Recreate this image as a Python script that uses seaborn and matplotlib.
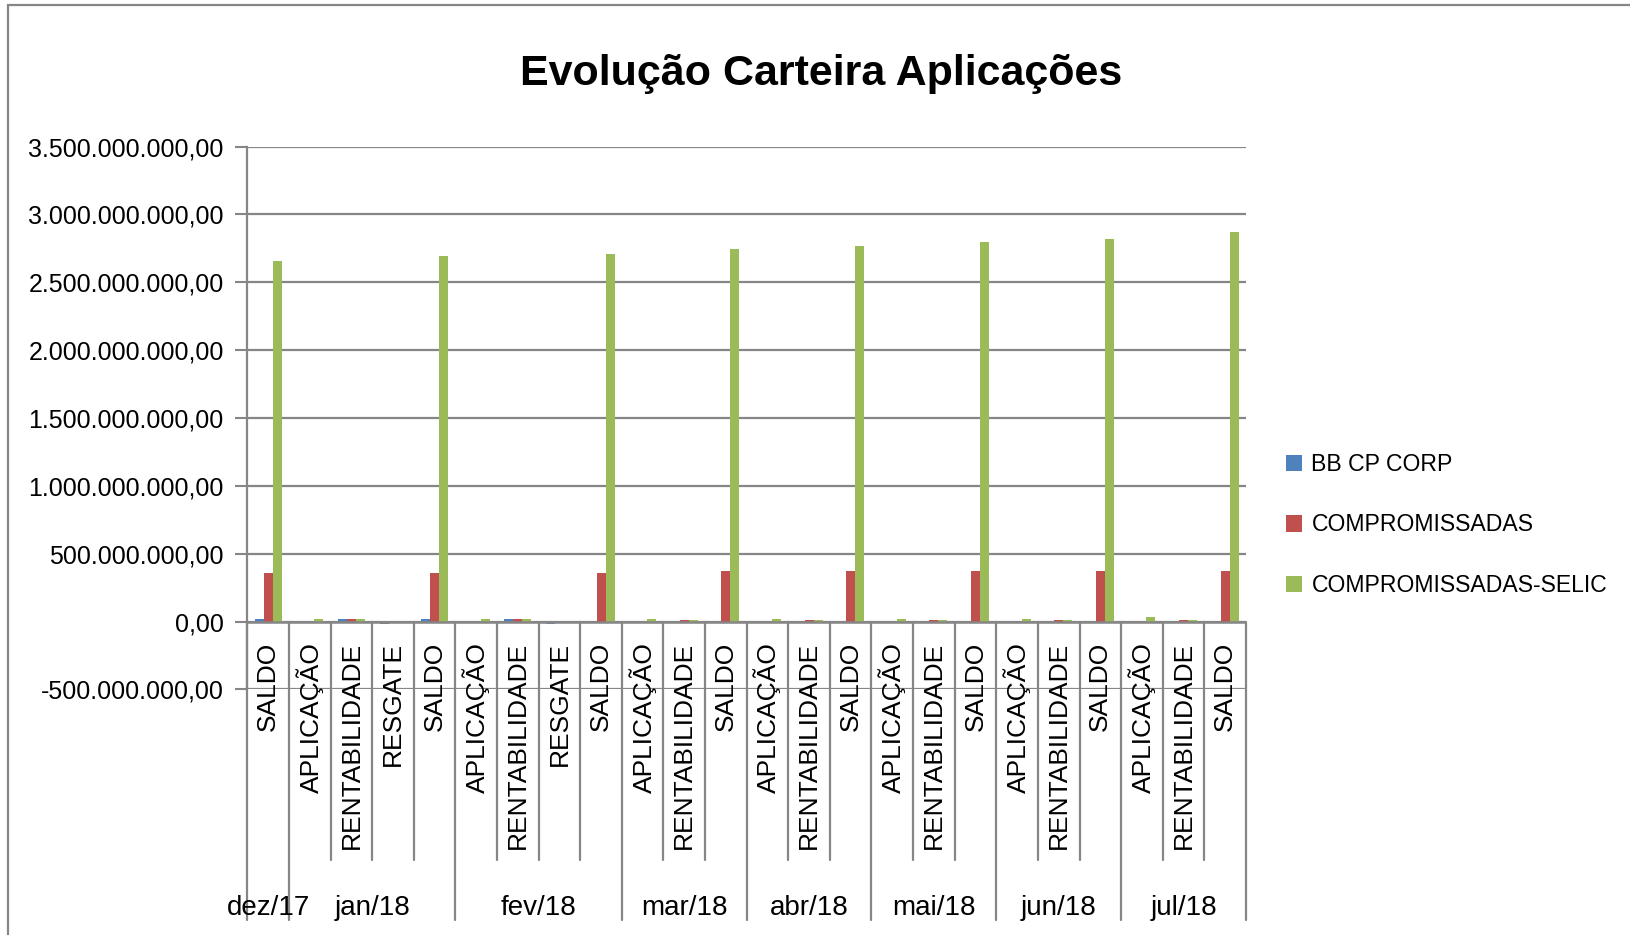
import pandas as pd
import matplotlib.pyplot as plt
import matplotlib.transforms as mtransforms
from matplotlib.patches import Rectangle
from matplotlib.ticker import FuncFormatter
import seaborn as sns

# ------------------------
# DADOS
# ------------------------
meses = ["dez/17", "jan/18", "fev/18", "mar/18", "abr/18", "mai/18", "jun/18", "jul/18"]
itens = [
    ["SALDO"],
    ["APLICAÇÃO", "RENTABILIDADE", "RESGATE", "SALDO"],
    ["APLICAÇÃO", "RENTABILIDADE", "RESGATE", "SALDO"],
    ["APLICAÇÃO", "RENTABILIDADE", "SALDO"],
    ["APLICAÇÃO", "RENTABILIDADE", "SALDO"],
    ["APLICAÇÃO", "RENTABILIDADE", "SALDO"],
    ["APLICAÇÃO", "RENTABILIDADE", "SALDO"],
    ["APLICAÇÃO", "RENTABILIDADE", "SALDO"],
]
series = ["BB CP CORP", "COMPROMISSADAS", "COMPROMISSADAS-SELIC"]

bb_cp_corp = [
    20e6,
    0, 20e6, -15e6, 20e6,
    0, 20e6, -15e6, 0,
    0, 0, 0,
    0, 0, 0,
    0, 0, 0,
    0, 0, 0,
    0, 0, 0,
]
compromissadas = [
    357e6,
    0, 20e6, 0, 357e6,
    0, 20e6, 0, 357e6,
    0, 15e6, 374e6,
    0, 15e6, 374e6,
    0, 15e6, 374e6,
    0, 15e6, 374e6,
    0, 15e6, 374e6,
]
compromissadas_selic = [
    2.657e9,
    18e6, 20e6, 0, 2.693e9,
    18e6, 20e6, 0, 2.710e9,
    18e6, 15e6, 2.747e9,
    18e6, 15e6, 2.764e9,
    18e6, 15e6, 2.800e9,
    18e6, 15e6, 2.820e9,
    37e6, 13e6, 2.874e9,
]

cores = ["#4F81BD", "#C0504D", "#9BBB59"]

# ------------------------
# MONTAR DATAFRAME
# ------------------------
categorias = []
rotulos = []
for mes, lista in zip(meses, itens):
    for item in lista:
        categorias.append(mes + " " + item)
        rotulos.append(item)

linhas = []
for nome, valores in zip(series, [bb_cp_corp, compromissadas, compromissadas_selic]):
    for cat, v in zip(categorias, valores):
        linhas.append({"categoria": cat, "serie": nome, "valor": v})
df = pd.DataFrame(linhas)

# ------------------------
# GRAFICO
# ------------------------
sns.set_style("white")
plt.rcParams["font.family"] = ["Liberation Sans", "DejaVu Sans"]

fig = plt.figure(figsize=(16.31, 9.35), dpi=100)
ax = fig.add_axes([0.1517, 0.2626, 0.6122, 0.5806])

sns.barplot(data=df, x="categoria", y="valor", hue="serie", order=categorias,
            hue_order=series, palette=cores, saturation=1, width=0.65, gap=0,
            errorbar=None, ax=ax, linewidth=0)

cinza = "#868686"
ax.set_ylim(-5e8, 3.5e9)
ax.set_xlim(-0.5, len(categorias) - 0.5)
ax.set_yticks([-5e8 + 5e8 * i for i in range(9)])


def formato_br(v, pos):
    return f"{v:,.2f}".replace(",", "X").replace(".", ",").replace("X", ".")


ax.yaxis.set_major_formatter(FuncFormatter(formato_br))
ax.tick_params(axis="y", labelsize=18, length=9, width=1.5, color=cinza, pad=8,
               left=True, labelcolor="black")
ax.set_xticks([])
ax.set_xlabel("")
ax.set_ylabel("")
ax.grid(axis="y", color=cinza, linewidth=1.6)
ax.set_axisbelow(True)
for lado in ["top", "right", "bottom"]:
    ax.spines[lado].set_visible(False)
ax.spines["left"].set_color(cinza)
ax.spines["left"].set_linewidth(1.6)

# eixo das categorias em zero
ax.axhline(0, color=cinza, linewidth=1.8, zorder=3)

# eixo multinivel
trans = mtransforms.blended_transform_factory(ax.transData, ax.transAxes)
y_zero = 0.125
y_sub = -0.315
y_grupo = -0.4245

for i, r in enumerate(rotulos):
    ax.text(i, 0.088, r, transform=trans, rotation=90, ha="center", va="top",
            fontsize=19, clip_on=False, color="black")

limites = [0]
for lista in itens:
    limites.append(limites[-1] + len(lista))

for k in range(len(categorias) + 1):
    fundo = y_grupo if k in limites else y_sub
    ax.plot([k - 0.5, k - 0.5], [y_zero, fundo], transform=trans, color=cinza,
            linewidth=1.6, clip_on=False)

for mes, a, b in zip(meses, limites[:-1], limites[1:]):
    ax.text((a + b - 1) / 2, -0.402, mes, transform=trans, ha="center", va="center",
            fontsize=20, clip_on=False, color="black")

# legenda
leg = ax.legend(loc="center left", bbox_to_anchor=(1.019, 0.303), frameon=False,
                fontsize=16.6, handlelength=0.72, handleheight=0.72,
                handletextpad=0.4, labelspacing=1.62, title=None)
for t in leg.get_texts():
    t.set_color("black")

# titulo
fig.text(0.5037, 0.921, "Evolução Carteira Aplicações", ha="center", va="center",
         fontsize=31, fontweight="bold", color="black")

# borda do grafico
fig.patches.append(Rectangle((8.3 / 1631, -0.1), 1.2, 1 - 5.2 / 935 + 0.1,
                             transform=fig.transFigure, fill=False,
                             edgecolor=cinza, linewidth=1.6))

plt.savefig("out.png", dpi=100)
